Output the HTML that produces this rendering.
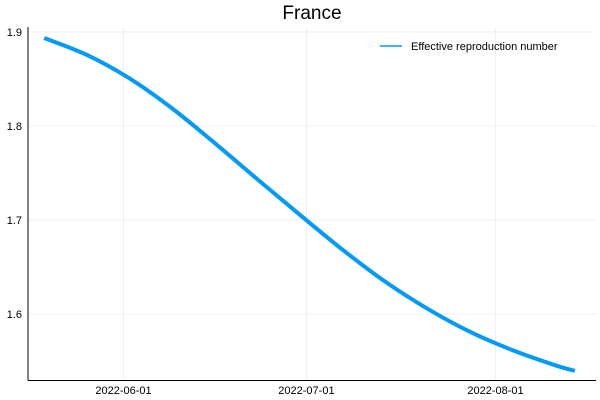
<!DOCTYPE html>
<html><head><meta charset="utf-8"><style>
html,body{margin:0;padding:0;background:#fff;}
svg{display:block;font-family:"Liberation Sans","DejaVu Sans",sans-serif;}
</style></head><body>
<svg id="chart" width="600" height="400">
<text x="312" y="19" text-anchor="middle" font-size="19">France</text>
<g id="grid"></g>
<g id="ticks"></g>
<line x1="28" y1="27" x2="28" y2="380.5" stroke="#000" stroke-width="1"/>
<line x1="28" y1="380.5" x2="596" y2="380.5" stroke="#000" stroke-width="1"/>
<path id="series" fill="none" stroke="#009af9" stroke-width="4"/>
<g>
<line x1="380" y1="46" x2="402" y2="46" stroke="#009af9" stroke-width="1.5"/>
<text x="411" y="50" font-size="11">Effective reproduction number</text>
</g>
</svg>
<script>
const dates = ["2022-05-19","2022-05-26","2022-06-02","2022-06-09","2022-06-16","2022-06-23","2022-06-30","2022-07-07","2022-07-14","2022-07-21","2022-07-28","2022-08-04","2022-08-11","2022-08-14"];
const values = [1.8936,1.8756,1.8506,1.8186,1.7816,1.7431,1.7051,1.6680,1.6340,1.6050,1.5805,1.5610,1.5450,1.5396];
const yTicks = [1.6,1.7,1.8,1.9];
const xTicks = ["2022-06-01","2022-07-01","2022-08-01"];

const day = s => Date.parse(s+"T00:00:00Z")/86400000;
const d0 = day("2022-06-01"), d1 = day("2022-08-01");
const x = s => 123.5 + (day(s)-d0)*(495.5-123.5)/(d1-d0);
const y = v => 314 - (v-1.6)*940;
const NS = "http://www.w3.org/2000/svg";
const grid = document.getElementById('grid'), ticks = document.getElementById('ticks');
function mk(tag, attrs, parent){const e=document.createElementNS(NS,tag);for(const k in attrs)e.setAttribute(k,attrs[k]);parent.appendChild(e);return e;}
yTicks.forEach(v=>{
  const g = mk('line',{x1:28,x2:596,y1:y(v),y2:y(v),stroke:'#000','stroke-opacity':0.1,'stroke-width':0.6},grid);
  
  
  const t = mk('text',{x:22,y:y(v)+4,'text-anchor':'end','font-size':11},ticks);
  t.textContent = v.toFixed(1);
  
  
});
xTicks.forEach(s=>{
  const g = mk('line',{x1:x(s),x2:x(s),y1:27,y2:380,stroke:'#000','stroke-opacity':0.1,'stroke-width':0.6},grid);
  
  
  const t = mk('text',{x:x(s),y:394,'text-anchor':'middle','font-size':11},ticks);
  t.textContent = s;
  
  
});
const pts = dates.map((s,i)=>[x(s),y(values[i])]);
let d = `M${pts[0][0]},${pts[0][1]}`;
for(let i=0;i<pts.length-1;i++){
  const p0=pts[Math.max(0,i-1)],p1=pts[i],p2=pts[i+1],p3=pts[Math.min(pts.length-1,i+2)];
  const c1=[p1[0]+(p2[0]-p0[0])/6,p1[1]+(p2[1]-p0[1])/6];
  const c2=[p2[0]-(p3[0]-p1[0])/6,p2[1]-(p3[1]-p1[1])/6];
  d+=` C${c1[0]},${c1[1]} ${c2[0]},${c2[1]} ${p2[0]},${p2[1]}`;
}
document.getElementById('series').setAttribute('d',d);
</script>
</body></html>
